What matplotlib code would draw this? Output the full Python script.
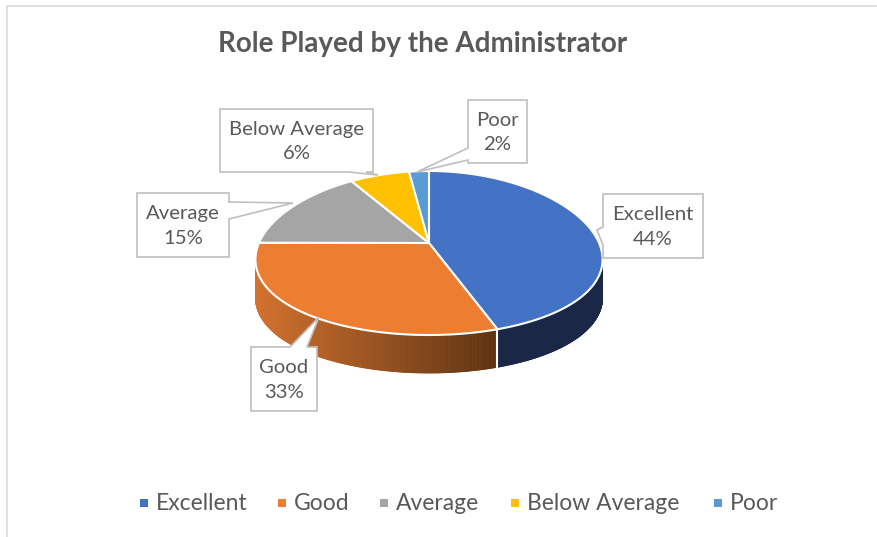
import numpy as np
import matplotlib.pyplot as plt
from matplotlib.patches import Polygon, Rectangle
from matplotlib.collections import PolyCollection
from matplotlib.colors import to_rgb

title = "Role Played by the Administrator"
labels = ["Excellent", "Good", "Average", "Below Average", "Poor"]
values = [44, 33, 15, 6, 2]
colors = ["#4472C4", "#ED7D31", "#A5A5A5", "#FFC000", "#5B9BD5"]

plt.rcParams['font.family'] = ['Lato', 'DejaVu Sans']
TXT = "#595959"

fig = plt.figure(figsize=(8.77, 5.37), dpi=100)
ax = fig.add_axes([0, 0, 1, 1])
ax.set_xlim(0, 877)
ax.set_ylim(537, 0)
ax.axis('off')

# chart frame
ax.plot([7, 7, 876], [537, 6, 6], color="#D9D9D9", lw=1.2)

# pie geometry (pixels)
cx, cy, rx, ry, depth = 429, 253, 173, 82, 38
apex = (429, 243)


def pt(t):
    r = np.radians(t)
    # a little perspective: the near half is wider than the far half
    x = np.cos(r) * (1 + 0.08 * (-np.sin(r)))
    return cx + rx * x, cy - ry * np.sin(r)


# slice angles, clockwise from 12 o'clock
fr = np.array(values) / sum(values)
ends = 90 - 360 * np.cumsum(fr)
starts = np.concatenate([[90], ends[:-1]])

# side walls (front half only), drawn as thin strips for shading
side_dark = {0: ("#1E2D50", "#1A2746"), 1: ("#D2722F", "#5A3010")}
polys, fcs = [], []
for i, (a0, a1) in enumerate(zip(starts, ends)):
    lo, hi = max(a1, -180), min(a0, 0)
    if lo >= hi:
        continue
    ts = np.linspace(hi, lo, 300)
    c0, c1 = np.array(to_rgb(side_dark[i][0])), np.array(to_rgb(side_dark[i][1]))
    for ta, tb in zip(ts[:-1], ts[1:]):
        xa, ya = pt(ta)
        xb, yb = pt(tb)
        polys.append([(xa, ya), (xb, yb), (xb, yb + depth), (xa, ya + depth)])
        f = np.clip((0.5 * (xa + xb) - (cx - rx)) / (2 * rx * 0.72), 0, 1)
        fcs.append(c0 * (1 - f) + c1 * f)
ax.add_collection(PolyCollection(polys, facecolors=fcs, edgecolors=fcs, lw=0.6))

# white seam on the side where Excellent meets Good
sx, sy = pt(ends[0])
ax.plot([sx, sx], [sy, sy + depth], color="white", lw=1.5)

# top faces
for a0, a1, c in zip(starts, ends, colors):
    ts = np.linspace(a0, a1, 200)
    xs, ys = pt(ts)
    verts = [apex] + list(zip(xs, ys))
    ax.add_patch(Polygon(verts, closed=True, facecolor=c, edgecolor="white", lw=1.5))


def callout(box, side, base, tip, lbl, pct):
    x0, y0, x1, y1 = box
    b0, b1 = base
    if side == "left":
        v = [(x0, y0), (x1, y0), (x1, y1), (x0, y1), (x0, b1), tip, (x0, b0)]
    elif side == "right":
        v = [(x0, y0), (x1, y0), (x1, b0), tip, (x1, b1), (x1, y1), (x0, y1)]
    elif side == "top":
        v = [(x0, y0), (b0, y0), tip, (b1, y0), (x1, y0), (x1, y1), (x0, y1)]
    else:
        v = [(x0, y0), (x1, y0), (x1, y1), (b1, y1), tip, (b0, y1), (x0, y1)]
    ax.add_patch(Polygon(v, closed=True, facecolor="white", edgecolor="#BFBFBF", lw=1.2))
    ax.text((x0 + x1) / 2, (y0 + y1) / 2 + 1, f"{lbl}\n{pct}%", ha="center", va="center",
            fontsize=14.6, color=TXT, linespacing=1.55)


callout((603, 194, 703, 258), "left", (227, 245), (597, 230), labels[0], values[0])
callout((251, 347, 317, 411), "top", (290, 307), (319, 317), labels[1], values[1])
callout((137, 193, 229, 257), "right", (202, 219), (293, 203), labels[2], values[2])
callout((220, 109, 373, 172), "bottom", (348, 366), (378, 175), labels[3], values[3])
callout((468, 100, 527, 163), "left", (148, 160), (417, 172), labels[4], values[4])

ax.text(423, 44, title, ha="center", va="center", fontsize=20,
        fontweight="bold", color=TXT)

# legend
lx = [140, 278, 380, 511, 714]
for x, lbl, c in zip(lx, labels, colors):
    ax.add_patch(Rectangle((x, 499), 8, 8, facecolor=c, edgecolor="none"))
    ax.text(x + 16, 503, lbl, ha="left", va="center", fontsize=16.5, color=TXT)

fig.savefig("out.png", dpi=100)
